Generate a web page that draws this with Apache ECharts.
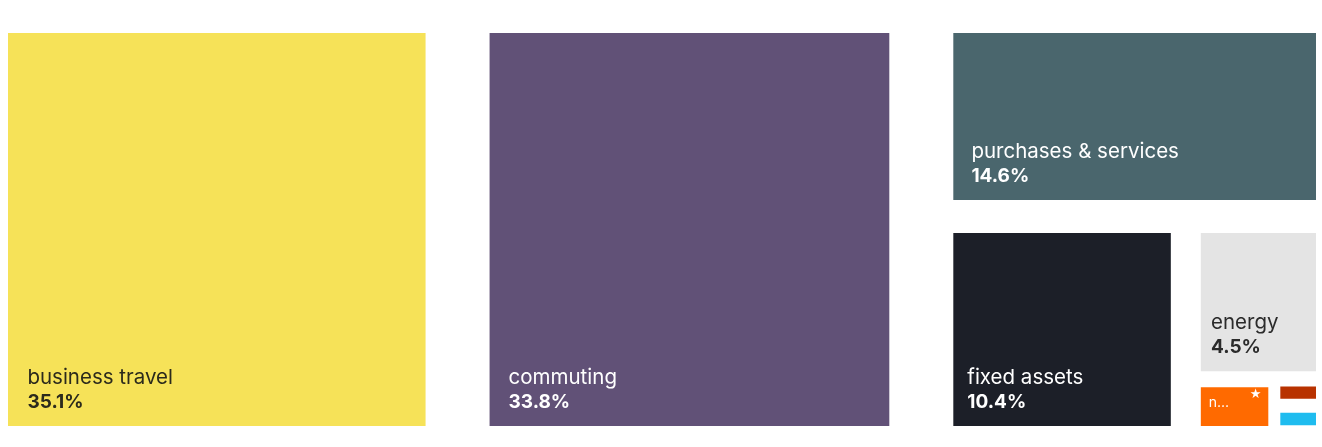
<!DOCTYPE html>
<html>
<head>
<meta charset="utf-8">
<script src="https://cdn.jsdelivr.net/npm/echarts@6/dist/echarts.min.js"></script>
<style>
  html, body { margin: 0; padding: 0; background: #ffffff; }
  #chart { width: 1322px; height: 447px; }
</style>
</head>
<body>
<div id="chart"></div>
<script>
// Emission sources and their share of the total footprint (%)
const categories = ['business travel', 'commuting', 'purchases & services', 'fixed assets', 'energy', 'non-energy', 'waste', 'water'];
const shares = [35.1, 33.8, 14.6, 10.4, 4.5, 1.0, 0.3, 0.3];
// Footnote marker shown in the corner of a cell
const markers = ['', '', '', '', '', '★', '', ''];

// Cell fills and label ink, in the same order as the categories
const fills = ['#f6e258', '#615177', '#4a666d', '#1c1f28', '#e4e4e4', '#ff6a00', '#b83200', '#1fbcef'];
const inks = ['#2b2a1c', '#ffffff', '#ffffff', '#ffffff', '#2b2b2b', '#ffffff', '#ffffff', '#ffffff'];

// White space between siblings, shrinking with nesting depth
const gaps = [64, 64, 33, 30, 16, 12, 14, 0];

// Label block metrics
const LINE_H = 25;
const PAD_RIGHT = 28;
const PAD_BOTTOM = 11;

// Each source sits beside a group holding all smaller ones
function nest(i, makeLeaf) {
  if (i === categories.length - 2) return [makeLeaf(i), makeLeaf(i + 1)];
  return [makeLeaf(i), { name: 'rest-' + i, children: nest(i + 1, makeLeaf) }];
}

const mainLeaf = i => ({
  name: categories[i],
  value: shares[i],
  itemStyle: { color: fills[i] },
  label: { color: inks[i] }
});

const markerLeaf = i => ({
  name: categories[i],
  value: shares[i],
  itemStyle: { color: 'rgba(0,0,0,0)' }
});

const common = {
  type: 'treemap',
  left: 8,
  top: 33,
  width: 1308,
  height: 393,
  roam: false,
  nodeClick: false,
  sort: false,
  squareRatio: 1,
  breadcrumb: { show: false }
};

// Per-depth styling: gaps between siblings; the deepest small cells get a smaller, tighter label
const mainLevels = gaps.map((g, d) => {
  const level = { itemStyle: { gapWidth: g, borderWidth: 0, borderColor: '#ffffff' } };
  if (d >= 6) {
    level.label = {
      padding: [0, 38.5, PAD_BOTTOM, 0],
      rich: { name: { fontSize: 14 }, pct: { fontSize: 14 } }
    };
  }
  return level;
});

const chart = echarts.init(document.getElementById('chart'), null, { renderer: 'canvas' });

chart.setOption({
  animation: false,
  series: [
    Object.assign({}, common, {
      itemStyle: { borderWidth: 0, borderColor: '#ffffff' },
      levels: mainLevels,
      label: {
        show: true,
        position: 'insideTopLeft',
        padding: [0, PAD_RIGHT, PAD_BOTTOM, 0],
        fontFamily: 'Inter',
        formatter: p => '{name|' + p.name + '}\n{pct|' + p.value.toFixed(1) + '%}',
        rich: {
          name: { fontFamily: 'Inter', fontSize: 20.5, fontWeight: 400, lineHeight: LINE_H },
          pct: { fontFamily: 'Inter', fontSize: 19, fontWeight: 700, lineHeight: LINE_H }
        }
      },
      // Rich-text lines stack from the top of the label box, so drop the box
      // until its last kept line rests near the bottom of the cell; the left
      // inset grows gently with the cell width.
      labelLayout: params => {
        const r = params.rect;
        const lines = Math.max(0, Math.min(2, Math.floor((r.height - PAD_BOTTOM) / LINE_H)));
        return {
          x: r.x + 0.95 * Math.sqrt(r.width),
          y: r.y + r.height - PAD_BOTTOM - lines * LINE_H,
          align: 'left',
          verticalAlign: 'top'
        };
      },
      data: nest(0, mainLeaf)
    }),
    // Same layout again, transparent, carrying only the corner markers
    Object.assign({}, common, {
      silent: true,
      itemStyle: { borderWidth: 0, borderColor: 'rgba(0,0,0,0)' },
      levels: gaps.map(g => ({ itemStyle: { gapWidth: g, borderWidth: 0, borderColor: 'rgba(0,0,0,0)' } })),
      label: {
        show: true,
        position: 'insideTopRight',
        padding: [1, 7, 0, 0],
        color: '#ffffff',
        fontFamily: 'DejaVu Sans',
        fontSize: 13,
        formatter: p => markers[categories.indexOf(p.name)] || ''
      },
      data: nest(0, markerLeaf)
    })
  ]
});
</script>
</body>
</html>
